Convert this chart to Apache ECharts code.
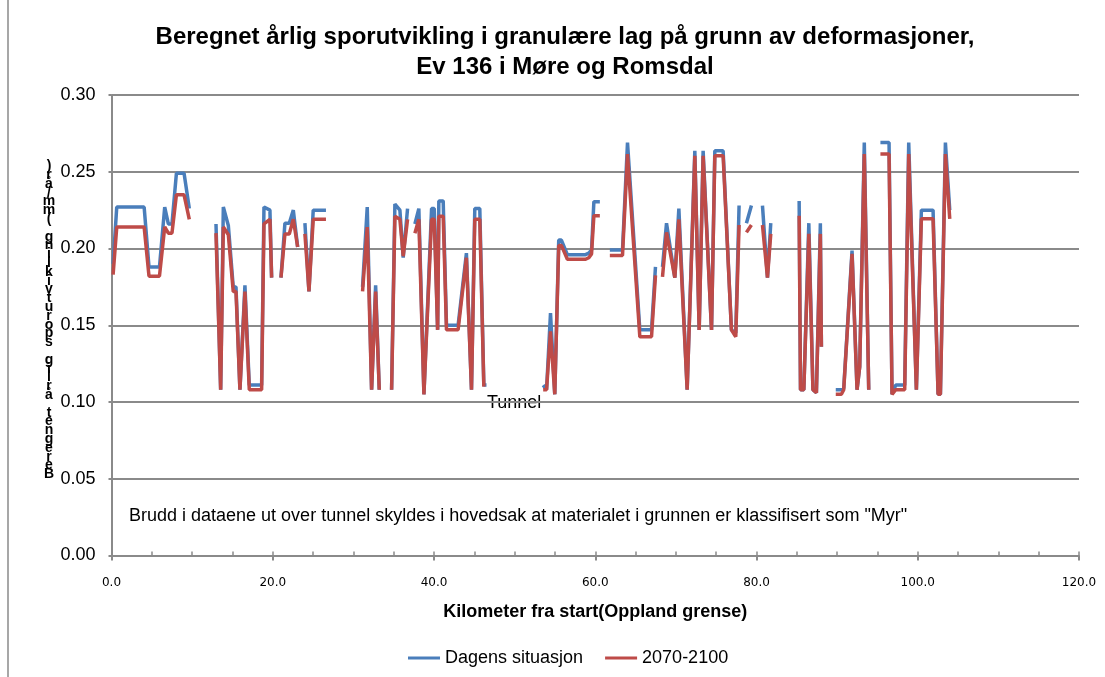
<!DOCTYPE html>
<html>
<head>
<meta charset="utf-8">
<script src="https://cdn.jsdelivr.net/npm/echarts@6/dist/echarts.min.js"></script>
<style>
  html, body { margin: 0; padding: 0; background: #fff; }
  #main { width: 1105px; height: 677px; }
</style>
</head>
<body>
<div id="main"></div>
<script>
// km fra start; null i verdiene = brudd i linja
var km = [
  0.2, 0.65, 4.05, 4.65, 5.95, 6.6, 7.05, 7.5, 8.05, 9.0, 9.65, 11.0,
  12.96, 13.54, 13.87, 14.49, 15.1, 15.44, 15.93, 16.55, 17.09, 18.62, 18.91, 19.65, 19.86, 20.4,
  21.02, 21.51, 22.05, 22.55, 23.09, 23.5,
  23.99, 24.49, 25.02, 26.6, 29.0,
  31.14, 31.72, 32.26, 32.76, 33.21, 34.0,
  34.74, 35.15, 35.77, 36.18, 36.72, 37.2,
  37.63, 38.12, 38.75, 39.7, 40.03, 40.45, 40.6, 41.14, 41.55, 42.99, 44.02, 44.65, 45.06, 45.68, 46.18, 46.51, 50.0,
  53.54, 53.96, 54.45, 54.98, 55.47, 55.8, 56.54, 58.8, 59.2, 59.54, 59.83, 60.57, 61.2,
  61.81, 63.38, 64.0, 65.53, 66.98, 67.47, 67.9,
  68.34, 68.84, 69.87, 70.37, 71.4, 72.35, 72.89, 73.38, 74.42, 74.83, 75.86, 76.89, 77.43, 77.84, 78.3,
  78.75, 79.37, 80.0,
  80.74, 81.36, 81.77, 83.0,
  85.29, 85.46, 85.87, 86.49, 87.0, 87.43, 87.92, 88.05, 89.0,
  89.83, 90.53, 90.82, 91.85, 92.47, 92.8, 93.37, 93.92, 94.6,
  95.37, 96.44, 96.81, 97.27, 98.38, 98.88, 99.83, 100.45, 101.9, 102.52, 102.81, 103.43, 103.97
];
var dagens = [
  0.190, 0.227, 0.227, 0.188, 0.188, 0.227, 0.216, 0.216, 0.249, 0.249, 0.226, null,
  0.216, 0.108, 0.227, 0.215, 0.175, 0.175, 0.108, 0.176, 0.111, 0.111, 0.227, 0.225, 0.181, null,
  0.181, 0.2165, 0.2165, 0.225, 0.201, null,
  0.2165, 0.172, 0.225, 0.225, null,
  0.175, 0.227, 0.108, 0.176, 0.108, null,
  0.108, 0.229, 0.225, 0.194, 0.226, null,
  0.216, 0.226, 0.105, 0.226, 0.226, 0.147, 0.231, 0.231, 0.150, 0.150, 0.197, 0.108, 0.226, 0.226, 0.111, 0.111, null,
  0.111, 0.108, 0.158, 0.105, 0.2055, 0.2055, 0.196, 0.196, 0.197, 0.199, 0.2305, 0.2305, null,
  0.199, 0.199, 0.269, 0.147, 0.147, 0.188, null,
  0.188, 0.2165, 0.181, 0.226, 0.108, 0.2637, 0.147, 0.2637, 0.147, 0.2637, 0.2637, 0.147, 0.145, 0.228, null,
  0.2165, 0.228, null,
  0.228, 0.181, 0.2165, null,
  0.231, 0.108, 0.108, 0.2165, 0.108, 0.106, 0.2165, 0.136, null,
  0.108, 0.108, 0.109, 0.1987, 0.108, 0.123, 0.269, 0.108, null,
  0.269, 0.269, 0.105, 0.111, 0.111, 0.269, 0.108, 0.225, 0.225, 0.105, 0.105, 0.269, 0.225
];
var framtid = [
  0.183, 0.214, 0.214, 0.182, 0.182, 0.214, 0.210, 0.210, 0.235, 0.235, 0.219, null,
  0.210, 0.108, 0.214, 0.209, 0.172, 0.172, 0.108, 0.172, 0.108, 0.108, 0.216, 0.219, 0.181, null,
  0.181, 0.2095, 0.2095, 0.219, 0.201, null,
  0.2095, 0.172, 0.219, 0.219, null,
  0.172, 0.214, 0.108, 0.172, 0.108, null,
  0.108, 0.221, 0.219, 0.195, 0.219, null,
  0.210, 0.219, 0.105, 0.219, 0.219, 0.147, 0.221, 0.221, 0.147, 0.147, 0.194, 0.108, 0.219, 0.219, 0.110, null, null,
  0.108, 0.108, 0.146, 0.105, 0.202, 0.202, 0.193, 0.193, 0.194, 0.1965, 0.2214, 0.2214, null,
  0.1955, 0.1955, 0.2615, 0.1425, 0.1425, 0.1825, null,
  0.1815, 0.2105, 0.181, 0.219, 0.108, 0.2604, 0.147, 0.2604, 0.147, 0.2604, 0.2604, 0.147, 0.1425, 0.2153, null,
  0.2105, 0.2153, null,
  0.2153, 0.181, 0.2095, null,
  0.2214, 0.108, 0.108, 0.2095, 0.108, 0.106, 0.2095, 0.136, null,
  0.105, 0.105, 0.108, 0.1965, 0.108, 0.123, 0.2615, 0.108, null,
  0.2615, 0.2615, 0.105, 0.108, 0.108, 0.2615, 0.108, 0.2193, 0.2193, 0.105, 0.105, 0.2615, 0.2193
];
var seriesNames = ['Dagens situasjon', '2070-2100'];
var yTitle = 'Beregnet årlig sporutvikling (mm/år)';

function pairs(vals) {
  return km.map(function (k, i) {
    return [k, vals[i] == null ? '-' : vals[i]];
  });
}

var gridColor = '#8a8a8a';
var font = 'Liberation Sans';

var chart = echarts.init(document.getElementById('main'));
var option = {
  animation: false,
  backgroundColor: '#fff',
  title: {
    text: 'Beregnet årlig sporutvikling i granulære lag på grunn av deformasjoner,\nEv 136 i Møre og Romsdal',
    left: 560,
    top: 17,
    textAlign: 'center',
    textStyle: { fontFamily: font, fontWeight: 'bold', fontSize: 24, lineHeight: 30, color: '#000' }
  },
  legend: {
    left: 403,
    top: 644,
    itemWidth: 32,
    itemHeight: 3,
    itemGap: 22,
    icon: 'rect',
    textStyle: { fontFamily: font, fontSize: 18, color: '#000' },
    data: seriesNames
  },
  grid: { left: 111.5, right: 26, top: 95, bottom: 121.5 },
  xAxis: [{
    type: 'value', min: 0, max: 120, interval: 5,
    axisLine: { onZero: false, lineStyle: { color: gridColor, width: 2 } },
    axisTick: { inside: true, length: 4, lineStyle: { color: gridColor, width: 1.5 } },
    splitLine: { show: false },
    axisLabel: {
      margin: 21,
      fontFamily: 'DejaVu Sans', fontSize: 12, color: '#000',
      formatter: function (v) { return v % 20 === 0 ? v.toFixed(1) : ''; }
    },
    name: 'Kilometer fra start(Oppland grense)',
    nameLocation: 'middle',
    nameGap: 48,
    nameTextStyle: { fontFamily: font, fontWeight: 'bold', fontSize: 18, color: '#000' }
  }, {
    type: 'value', min: 0, max: 120, interval: 20, position: 'bottom',
    axisLine: { show: false, onZero: false },
    axisTick: { show: true, length: 5, lineStyle: { color: gridColor, width: 2 } },
    axisLabel: { show: false },
    splitLine: { show: false }
  }],
  yAxis: {
    type: 'value', min: 0, max: 0.3, interval: 0.05,
    axisLine: { show: true, lineStyle: { color: gridColor, width: 2 } },
    axisTick: { show: true, length: 3, lineStyle: { color: gridColor, width: 2 } },
    splitLine: { lineStyle: { color: gridColor, width: 2 } },
    axisLabel: {
      margin: 16, fontFamily: font, fontSize: 18, color: '#000',
      formatter: function (v) { return v.toFixed(2); }
    }
  },
  graphic: [{
    type: 'rect', silent: true, z: -1,
    shape: { x: 8, y: -10, width: 1120, height: 700 },
    style: { fill: 'none', stroke: '#8a8a8a', lineWidth: 1.5 }
  }, {
    type: 'text', x: 49, y: 162,
    style: {
      text: yTitle.split('').reverse().join('\n'),
      font: 'bold 14px "Liberation Sans"', lineHeight: 8.8,
      textAlign: 'center', fill: '#000'
    }
  }, {
    type: 'text', x: 487, y: 403,
    style: { text: 'Tunnel', font: '18px "Liberation Sans"', textVerticalAlign: 'middle', fill: '#000' }
  }, {
    type: 'text', x: 129, y: 516,
    style: {
      text: 'Brudd i dataene ut over tunnel skyldes i hovedsak at materialet i grunnen er klassifisert som "Myr"',
      font: '18px "Liberation Sans"', textVerticalAlign: 'middle', fill: '#000'
    }
  }],
  series: [{
    name: seriesNames[0], type: 'line', xAxisIndex: 0,
    data: pairs(dagens), showSymbol: false, connectNulls: false,
    color: '#4a7ebb', lineStyle: { width: 3.5, color: '#4a7ebb' }, z: 2
  }, {
    name: seriesNames[1], type: 'line', xAxisIndex: 0,
    data: pairs(framtid), showSymbol: false, connectNulls: false,
    color: '#be4b48', lineStyle: { width: 3.5, color: '#be4b48' }, z: 3
  }]
};
chart.setOption(option);
</script>
</body>
</html>
